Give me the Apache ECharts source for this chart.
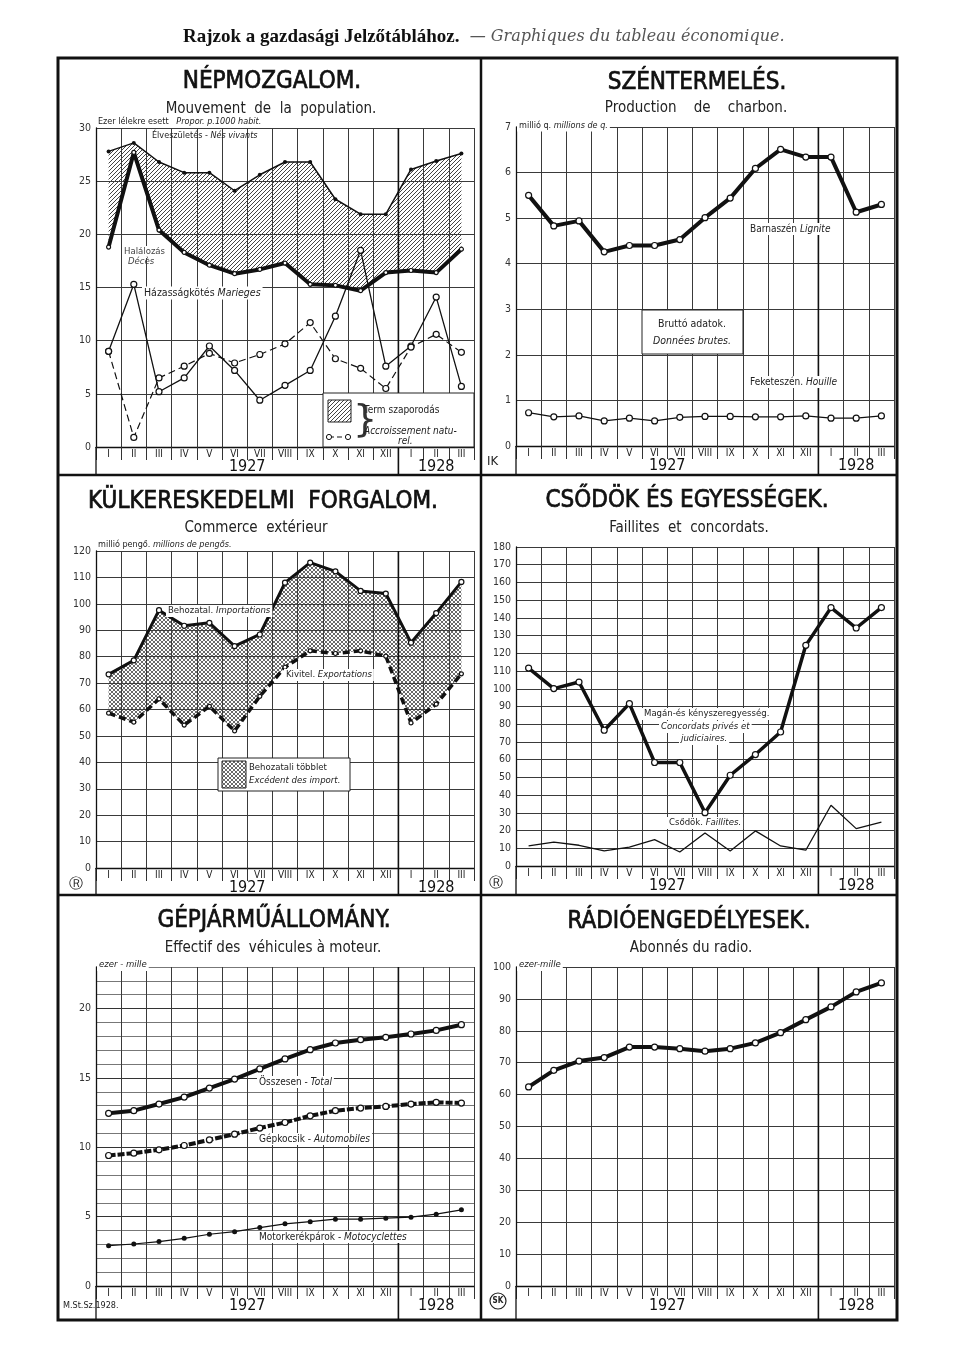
<!DOCTYPE html>
<html><head><meta charset="utf-8">
<script src="https://cdn.jsdelivr.net/npm/echarts@6/dist/echarts.min.js"></script>
<style>html,body{margin:0;padding:0;background:#fff}#c{width:960px;height:1348px}</style>
</head><body><div id="c"></div>
<script>
// ---------------- DATA ----------------
const months = ['I','II','III','IV','V','VI','VII','VIII','IX','X','XI','XII','I','II','III'];
const years = ['1927','1928'];
// Népmozgalom (per 1000)
const births    = [27.8, 28.6, 26.8, 25.8, 25.8, 24.1, 25.6, 26.8, 26.8, 23.3, 21.9, 21.9, 26.1, 26.9, 27.6];
const deaths    = [18.8, 27.7, 20.4, 18.3, 17.1, 16.3, 16.7, 17.3, 15.3, 15.2, 14.7, 16.4, 16.6, 16.4, 18.6];
const marriages = [9.0, 15.3, 5.2, 6.5, 9.5, 7.2, 4.4, 5.8, 7.2, 12.3, 18.5, 7.6, 9.5, 14.1, 5.7];
const natIncrease = [9.0, 0.9, 6.5, 7.6, 8.8, 7.9, 8.7, 9.7, 11.7, 8.3, 7.4, 5.5, 9.4, 10.6, 8.9];
// Széntermelés (million q)
const lignite = [5.50, 4.83, 4.94, 4.26, 4.40, 4.40, 4.53, 5.01, 5.44, 6.09, 6.51, 6.34, 6.34, 5.13, 5.30];
const houille = [0.73, 0.64, 0.66, 0.55, 0.61, 0.55, 0.63, 0.65, 0.65, 0.64, 0.64, 0.66, 0.61, 0.61, 0.66];
// Külkereskedelem (million pengő)
const imports = [73.3, 78.6, 97.6, 91.7, 92.8, 84.0, 88.4, 108.0, 115.6, 112.3, 104.9, 103.9, 85.3, 96.5, 108.3];
const exportsV = [58.6, 55.2, 64.0, 54.1, 61.2, 51.9, 65.0, 76.0, 82.2, 81.2, 82.2, 80.2, 54.9, 62.0, 73.5];
// Csődök és egyességek
const concordats = [111.7, 100.1, 103.8, 76.6, 91.6, 58.4, 58.4, 30.1, 51.2, 62.9, 75.6, 124.5, 145.8, 134.3, 145.8];
const faillites  = [11.3, 13.5, 11.7, 8.5, 10.7, 14.9, 7.9, 18.6, 8.5, 19.8, 11.3, 8.9, 34.3, 21.1, 24.8];
// Gépjárműállomány (thousand)
const vehTotal = [12.45, 12.64, 13.12, 13.62, 14.27, 14.92, 15.65, 16.37, 17.04, 17.52, 17.76, 17.93, 18.17, 18.43, 18.84];
const vehAuto  = [9.41, 9.58, 9.82, 10.13, 10.54, 10.95, 11.39, 11.79, 12.27, 12.64, 12.83, 12.95, 13.12, 13.24, 13.19];
const vehMoto  = [2.91, 3.03, 3.20, 3.44, 3.73, 3.92, 4.21, 4.48, 4.64, 4.82, 4.82, 4.89, 4.96, 5.18, 5.49];
// Rádióengedélyesek (thousand)
const radio = [62.4, 67.6, 70.5, 71.6, 74.9, 74.9, 74.4, 73.6, 74.4, 76.2, 79.4, 83.5, 87.5, 92.2, 95.0];
// Titles
const titles = ['NÉPMOZGALOM.', 'SZÉNTERMELÉS.', 'KÜLKERESKEDELMI  FORGALOM.', 'CSŐDÖK ÉS EGYESSÉGEK.', 'GÉPJÁRMŰÁLLOMÁNY.', 'RÁDIÓENGEDÉLYESEK.'];
const subtitles = ['Mouvement  de  la  population.', 'Production    de    charbon.', 'Commerce  extérieur', 'Faillites  et  concordats.', 'Effectif des  véhicules à moteur.', 'Abonnés du radio.'];

// ---------------- LAYOUT ----------------
const FONT = '"DejaVu Sans Condensed","DejaVu Sans",sans-serif';
const PW = 378, CW = PW / 15;
const panels = [
  {left: 96,  top: 128, bottom: 447, pb: 475, max: 30,  step: 5,  tx: 272, ty: 82,  sx: 271, sy: 109},
  {left: 516, top: 127, bottom: 446, pb: 475, max: 7,   step: 1,  tx: 697, ty: 83,  sx: 696, sy: 108},
  {left: 96,  top: 551, bottom: 868, pb: 895, max: 120, step: 10, tx: 263, ty: 502, sx: 256, sy: 528},
  {left: 516, top: 547, bottom: 866, pb: 895, max: 180, step: 10, tx: 687, ty: 501, sx: 689, sy: 528},
  {left: 96,  top: 967, bottom: 1286, pb: 1320, max: 23, step: 1, every: 5, tx: 274, ty: 921, sx: 273, sy: 948},
  {left: 516, top: 967, bottom: 1286, pb: 1320, max: 100, step: 10, tx: 689, ty: 922, sx: 691, sy: 948}
];

function makeHatch(cross, color, size, lw) {
  const c = document.createElement('canvas'); c.width = size; c.height = size;
  const g = c.getContext('2d'); g.strokeStyle = color; g.lineWidth = lw;
  g.beginPath();
  g.moveTo(-1, size + 1); g.lineTo(size + 1, -1);
  g.moveTo(-1, 1); g.lineTo(1, -1);
  g.moveTo(size - 1, size + 1); g.lineTo(size + 1, size - 1);
  if (cross) {
    g.moveTo(-1, -1); g.lineTo(size + 1, size + 1);
    g.moveTo(size - 1, -1); g.lineTo(size + 1, 1);
    g.moveTo(-1, size - 1); g.lineTo(1, size + 1);
  }
  g.stroke();
  return {image: c, repeat: 'repeat'};
}
const hatch1 = makeHatch(false, '#444', 4, 1);
const hatch3 = makeHatch(true, '#444', 4, 0.8);

const grids = [], xAxes = [], yAxes = [];
panels.forEach((p, i) => {
  grids.push({left: p.left, top: p.top, width: PW, height: p.bottom - p.top, containLabel: false});
  xAxes.push({
    type: 'category', gridIndex: i, data: months, boundaryGap: true,
    axisLine: {show: true, lineStyle: {color: '#111', width: 1.3}},
    axisTick: {show: true, interval: 0, length: 13, lineStyle: {color: '#333', width: 1}},
    axisLabel: {interval: 0, fontSize: 10, margin: 2, color: '#222', fontFamily: FONT},
    splitLine: {show: true, interval: 0, lineStyle: {color: '#3a3a3a', width: 1}}
  });
  yAxes.push({
    type: 'value', gridIndex: i, min: 0, max: p.max, interval: p.step,
    axisLine: {show: true, lineStyle: {color: '#111', width: 1.3}},
    axisTick: {show: false},
    axisLabel: {fontSize: 10.5, margin: 5, color: '#333', fontFamily: FONT,
      formatter: v => (p.every ? (v % p.every === 0 ? String(v) : '') : String(v))},
    splitLine: {show: true, lineStyle: {color: p.every ? ['#333', '#777', '#777', '#777', '#777'] : '#3a3a3a', width: 1}}
  });
});

function line(idx, data, o) {
  return Object.assign({
    type: 'line', xAxisIndex: idx, yAxisIndex: idx, data: data, symbol: 'circle', symbolSize: 6,
    showSymbol: true, silent: true, z: 5, animation: false,
    lineStyle: {color: '#111', width: 1.3, type: 'solid'},
    itemStyle: {color: '#fff', borderColor: '#111', borderWidth: 1.2}
  }, o);
}
function band(idx, upper, lower, fill) {
  return {
    type: 'custom', xAxisIndex: idx, yAxisIndex: idx, data: [[0, upper[0]]], silent: true, z: 1, clip: false,
    renderItem: (params, api) => {
      const pts = [];
      for (let k = 0; k < upper.length; k++) pts.push(api.coord([k, upper[k]]));
      for (let k = lower.length - 1; k >= 0; k--) pts.push(api.coord([k, lower[k]]));
      return {type: 'polygon', shape: {points: pts}, style: {fill: fill, stroke: null}};
    }
  };
}

const series = [
  band(0, births, deaths, hatch1),
  line(0, births, {symbolSize: 4, itemStyle: {color: '#111'}, lineStyle: {color: '#111', width: 1.5}}),
  line(0, deaths, {symbolSize: 4, lineStyle: {color: '#111', width: 4}}),
  line(0, marriages, {}),
  line(0, natIncrease, {lineStyle: {color: '#111', width: 1.2, type: [7, 4]}}),
  line(1, lignite, {lineStyle: {color: '#111', width: 4}}),
  line(1, houille, {}),
  band(2, imports, exportsV, hatch3),
  line(2, imports, {symbolSize: 5, lineStyle: {color: '#111', width: 3}}),
  line(2, exportsV, {symbolSize: 4, lineStyle: {color: '#111', width: 3.5, type: [7, 4]}}),
  line(3, concordats, {lineStyle: {color: '#111', width: 3.5}}),
  line(3, faillites, {symbol: 'none', lineStyle: {color: '#111', width: 1.3}}),
  line(4, vehTotal, {lineStyle: {color: '#111', width: 4}}),
  line(4, vehAuto, {lineStyle: {color: '#111', width: 4, type: [7, 2]}}),
  line(4, vehMoto, {symbolSize: 5, itemStyle: {color: '#111'}, lineStyle: {color: '#111', width: 1.2}}),
  line(5, radio, {lineStyle: {color: '#111', width: 4}})
];

// ---------------- GRAPHICS ----------------
function R(size) {
  return {
    n: {fontSize: size, fontFamily: FONT, fill: '#222'},
    i: {fontSize: size, fontFamily: FONT, fontStyle: 'italic', fill: '#222'}
  };
}
function txt(x, y, text, o) {
  o = o || {};
  const st = {
    text: text, fill: o.color || '#222',
    font: (o.italic ? 'italic ' : '') + (o.weight || 'normal') + ' ' + (o.size || 10) + 'px ' + (o.family || FONT),
    align: o.align || 'left', verticalAlign: 'middle', textAlign: o.align || 'left', textVerticalAlign: 'middle'
  };
  if (o.rich) st.rich = o.rich;
  if (o.bg) { st.backgroundColor = '#fff'; st.padding = [1, 2]; }
  if (o.stroke) { st.stroke = o.color || '#111'; st.lineWidth = o.stroke; }
  return {type: 'text', x: x, y: y, z: o.z || 60, silent: true, style: st};
}
function rect(x, y, w, h, fill, o) {
  o = o || {};
  return {type: 'rect', z: o.z || 55, silent: true, shape: {x: x, y: y, width: w, height: h},
    style: {fill: fill, stroke: o.stroke === undefined ? '#222' : o.stroke, lineWidth: o.lw || 1}};
}
function seg(x1, y1, x2, y2, w, o) {
  o = o || {};
  return {type: 'line', z: o.z || 50, silent: true, shape: {x1: x1, y1: y1, x2: x2, y2: y2},
    style: {stroke: o.color || '#111', lineWidth: w, lineDash: o.dash || null}};
}

const G = [];
// header
G.push(txt(183, 37, '{b|Rajzok a gazdasági Jelzőtáblához.}{i|  — Graphiques du tableau économique.}', {
  rich: {
    b: {fontSize: 19, fontWeight: 'bold', fontFamily: '"Liberation Serif","DejaVu Serif",serif', fill: '#111'},
    i: {fontSize: 16, fontStyle: 'italic', fontFamily: '"DejaVu Serif","Liberation Serif",serif', fill: '#555'}
  }
}));
// frame
G.push(rect(58, 58, 839, 1262, 'none', {stroke: '#111', lw: 3, z: 70}));
G.push(seg(481, 58, 481, 1320, 2.5, {z: 70}));
G.push(seg(58, 475, 897, 475, 2.5, {z: 70}));
G.push(seg(58, 895, 897, 895, 2.5, {z: 70}));

panels.forEach((p, i) => {
  G.push(txt(p.tx, p.ty, titles[i], {size: 24, align: 'center', color: '#111', stroke: 0.7}));
  G.push(txt(p.sx, p.sy, subtitles[i], {size: 15, align: 'center', color: '#222'}));
  G.push(seg(p.left, p.bottom, p.left, p.pb, 1.3));
  const xd = p.left + 12 * CW;
  G.push(seg(xd, p.top, xd, p.pb, 1.6));
  G.push(txt(p.left + 6 * CW, p.bottom + 20, years[0], {size: 16, align: 'center', color: '#111'}));
  G.push(txt(p.left + 13.5 * CW, p.bottom + 20, years[1], {size: 16, align: 'center', color: '#111'}));
});

// Panel 1 annotations
G.push(txt(98, 122, '{n|Ezer lélekre esett   }{i|Propor. p.1000 habit.}', {rich: R(9)}));
G.push(txt(152, 136, '{n|Élveszületés - }{i|Nés vivants}', {rich: R(9)}));
G.push(txt(122, 252, 'Halálozás', {size: 9.5, color: '#444', bg: true}));
G.push(txt(128, 262, 'Décès', {size: 9.5, italic: true, color: '#444'}));
G.push(txt(142, 293, '{n|Házasságkötés }{i|Marieges}', {rich: R(10.5), bg: true}));
G.push(rect(323, 393, 151, 54, '#fff'));
G.push(rect(328, 400, 23, 22, hatch1, {z: 56}));
G.push(txt(353, 421, '}', {size: 38, family: '"DejaVu Sans",sans-serif', color: '#333', z: 57}));
G.push(txt(364, 410, 'Term szaporodás', {size: 10, z: 57}));
G.push(seg(329, 437, 348, 437, 1.2, {dash: [5, 3], z: 56}));
G.push({type: 'circle', z: 57, silent: true, shape: {cx: 329, cy: 437, r: 2.6}, style: {fill: '#fff', stroke: '#111', lineWidth: 1}});
G.push({type: 'circle', z: 57, silent: true, shape: {cx: 348, cy: 437, r: 2.6}, style: {fill: '#fff', stroke: '#111', lineWidth: 1}});
G.push(txt(364, 431, 'Accroissement natu-', {size: 10, italic: true, z: 57}));
G.push(txt(398, 441, 'rel.', {size: 10, italic: true, z: 57}));

// Panel 2 annotations
G.push(txt(517, 126, '{n|millió q. }{i|millions de q.}', {rich: R(9), bg: true}));
G.push(txt(748, 229, '{n|Barnaszén }{i|Lignite}', {rich: R(10), bg: true}));
G.push(txt(748, 382, '{n|Feketeszén. }{i|Houille}', {rich: R(10), bg: true}));
G.push(rect(642, 310, 101, 44, '#fff'));
G.push(txt(692, 324, 'Bruttó adatok.', {size: 10.5, align: 'center'}));
G.push(txt(692, 341, 'Données brutes.', {size: 10.5, align: 'center', italic: true}));
G.push(txt(487, 462, 'IK', {size: 13, color: '#222'}));

// Panel 3 annotations
G.push(txt(98, 545, '{n|millió pengő. }{i|millions de pengős.}', {rich: R(9)}));
G.push(txt(166, 611, '{n|Behozatal. }{i|Importations}', {rich: R(9.5), bg: true}));
G.push(txt(284, 675, '{n|Kivitel. }{i|Exportations}', {rich: R(9.5), bg: true}));
G.push(rect(218, 758, 132, 33, '#fff'));
G.push(rect(222, 761, 24, 27, hatch3, {z: 56}));
G.push(txt(249, 768, 'Behozatali többlet', {size: 9.5, z: 57}));
G.push(txt(249, 781, 'Excédent des import.', {size: 9.5, italic: true, z: 57}));
G.push(txt(76, 884, 'Ⓡ', {size: 14, align: 'center', family: '"DejaVu Sans",sans-serif'}));

// Panel 4 annotations
G.push(txt(642, 714, 'Magán-és kényszeregyesség.', {size: 9.5, bg: true}));
G.push(txt(659, 727, 'Concordats privés et', {size: 9.5, italic: true, bg: true}));
G.push(txt(679, 739, 'judiciaires.', {size: 9.5, italic: true, bg: true}));
G.push(txt(667, 823, '{n|Csődök. }{i|Faillites.}', {rich: R(9.5), bg: true}));
G.push(txt(496, 883, 'Ⓡ', {size: 14, align: 'center', family: '"DejaVu Sans",sans-serif'}));

// Panel 5 annotations
G.push(txt(97, 965, 'ezer - mille', {size: 9.5, italic: true, bg: true}));
G.push(txt(257, 1082, '{n|Összesen - }{i|Total}', {rich: R(10), bg: true}));
G.push(txt(257, 1139, '{n|Gépkocsik - }{i|Automobiles}', {rich: R(10), bg: true}));
G.push(txt(257, 1237, '{n|Motorkerékpárok - }{i|Motocyclettes}', {rich: R(10), bg: true}));
G.push(txt(63, 1306, 'M.St.Sz.1928.', {size: 9}));

// Panel 6 annotations
G.push(txt(517, 965, 'ezer-mille', {size: 9.5, italic: true, bg: true}));
G.push({type: 'circle', z: 60, silent: true, shape: {cx: 498, cy: 1301, r: 8}, style: {fill: '#fff', stroke: '#222', lineWidth: 1.2}});
G.push(txt(498, 1301, 'SK', {size: 8, align: 'center', weight: 'bold'}));

const chart = echarts.init(document.getElementById('c'), null, {renderer: 'canvas'});
chart.setOption({
  backgroundColor: '#fff',
  animation: false,
  grid: grids, xAxis: xAxes, yAxis: yAxes,
  series: series,
  graphic: {elements: G}
});
</script>
</body></html>
